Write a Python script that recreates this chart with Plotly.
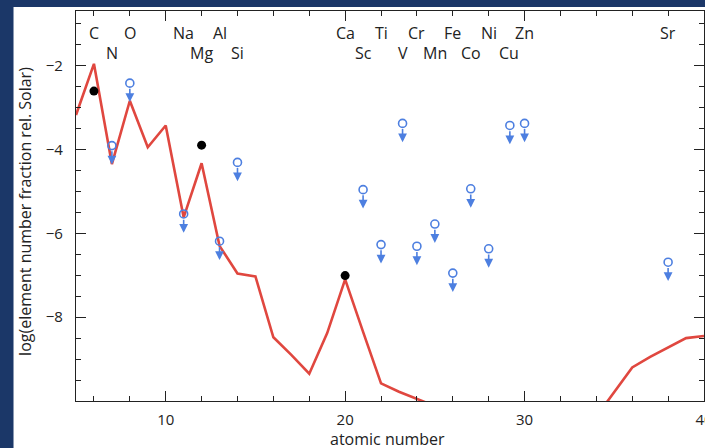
import plotly.graph_objects as go

# Red model curve: atomic number vs log abundance
model_z = list(range(5, 41))
model_val = [-3.18, -1.96, -4.35, -2.84, -3.95, -3.43, -5.62, -4.33, -6.30, -6.96,
             -7.03, -8.48, -8.90, -9.35, -8.38, -7.10, -8.35, -9.58, -9.78, -9.95,
             -10.12, -10.40, -10.60, -10.50, -10.80, -10.70, -10.90, -10.80, -10.60, -10.37,
             -9.79, -9.20, -8.95, -8.72, -8.50, -8.45]

# Detections (black dots)
det_z = [6, 12, 20]
det_val = [-2.61, -3.90, -7.01]

# Upper limits (open circles with arrows)
lim_z = [7, 8, 11, 13, 14, 21, 22, 23.2, 24, 25, 26, 27, 28, 29.18, 30, 38]
lim_val = [-3.91, -2.42, -5.54, -6.19, -4.31, -4.96, -6.27, -3.38, -6.31, -5.78,
           -6.95, -4.94, -6.37, -3.43, -3.38, -6.69]

# Element labels
row1_names = ["C", "O", "Na", "Al", "Ca", "Ti", "Cr", "Fe", "Ni", "Zn", "Sr"]
row1_x = [6, 8, 11, 13, 20, 22, 24, 26, 28, 30, 38]
row2_names = ["N", "Mg", "Si", "Sc", "V", "Mn", "Co", "Cu"]
row2_x = [7, 12, 14, 21, 23.2, 25, 27, 29.15]
row1_y = -1.23
row2_y = -1.71

RED = "#e0473f"
BLUE = "#4d7fe0"
FONT = "Open Sans"
TXT = "#222222"

fig = go.Figure()

fig.add_trace(go.Scatter(x=model_z, y=model_val, mode="lines",
                         line=dict(color=RED, width=2.6), showlegend=False))
fig.add_trace(go.Scatter(x=det_z, y=det_val, mode="markers",
                         marker=dict(color="black", size=9), showlegend=False))
fig.add_trace(go.Scatter(x=lim_z, y=lim_val, mode="markers",
                         marker=dict(symbol="circle-open", color=BLUE, size=8,
                                     line=dict(width=1.6, color=BLUE)),
                         showlegend=False))

annotations = []
for xv, yv in zip(lim_z, lim_val):
    annotations.append(dict(x=xv, y=yv - 0.45, ax=xv, ay=yv - 0.10,
                            xref="x", yref="y", axref="x", ayref="y",
                            text="", showarrow=True, arrowhead=2, arrowsize=1.1,
                            arrowwidth=1.6, arrowcolor=BLUE))
for name, xv in zip(row1_names, row1_x):
    annotations.append(dict(x=xv, y=row1_y, xref="x", yref="y", text=name,
                            showarrow=False, font=dict(family=FONT, size=16, color=TXT)))
for name, xv in zip(row2_names, row2_x):
    annotations.append(dict(x=xv, y=row2_y, xref="x", yref="y", text=name,
                            showarrow=False, font=dict(family=FONT, size=16, color=TXT)))

# Axis titles
annotations.append(dict(x=0.496, y=-0.097, xref="paper", yref="paper",
                        text="atomic number", showarrow=False,
                        xanchor="center", yanchor="middle",
                        font=dict(family=FONT, size=16, color=TXT)))
annotations.append(dict(x=-0.0805, y=0.486, xref="paper", yref="paper",
                        text="log(element number fraction rel. Solar)", showarrow=False,
                        textangle=-90, xanchor="center", yanchor="middle",
                        font=dict(family=FONT, size=16, color=TXT)))

# White panel behind the chart
shapes = [dict(type="rect", xref="paper", yref="paper",
               x0=-0.0995, x1=1.01, y0=-0.13, y1=1.0103,
               fillcolor="white", line=dict(width=0), layer="below")]

fig.update_layout(
    width=705, height=448,
    margin=dict(l=76, r=1, t=11, b=47),
    paper_bgcolor="#1b3768",
    plot_bgcolor="white",
    shapes=shapes,
    annotations=annotations,
    font=dict(family=FONT, color=TXT),
    xaxis=dict(range=[5, 40], dtick=10, tick0=0, ticks="inside", ticklen=10,
               tickwidth=1.3, tickcolor="#222", showline=True, linecolor="#222",
               linewidth=1.3, mirror="ticks", showgrid=False, zeroline=False,
               automargin=False, ticklabeloverflow="allow",
               minor=dict(dtick=2, ticks="inside", ticklen=5, tickwidth=1.3,
                          tickcolor="#222", showgrid=False),
               tickfont=dict(family=FONT, size=15, color=TXT),
               ticklabelstandoff=5),
    yaxis=dict(range=[-10, -0.7], tickvals=[-2, -4, -6, -8], ticks="inside",
               ticklen=10, tickwidth=1.3, tickcolor="#222", showline=True,
               linecolor="#222", linewidth=1.3, mirror="ticks", showgrid=False,
               zeroline=False, automargin=False,
               minor=dict(dtick=0.5, tick0=0, ticks="inside", ticklen=5,
                          tickwidth=1.3, tickcolor="#222", showgrid=False),
               tickfont=dict(family=FONT, size=15, color=TXT),
               ticklabelstandoff=9),
)

fig.write_html("out.html",
               config={"displayModeBar": False},
               post_script="document.body.style.margin='0';"
                           "document.body.style.padding='0';"
                           "document.body.style.overflow='hidden';"
                           "document.documentElement.style.overflow='hidden';")
